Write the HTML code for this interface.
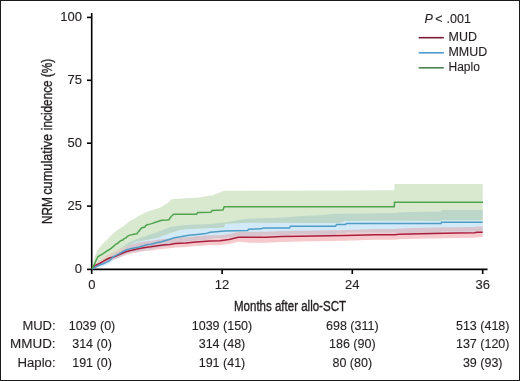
<!DOCTYPE html>
<html><head><meta charset="utf-8">
<style>
html,body{margin:0;padding:0;background:#fff;}
body{width:520px;height:381px;overflow:hidden;position:relative;}
svg{position:absolute;left:0;top:0;will-change:transform;}
text{font-family:"Liberation Sans",sans-serif;fill:#231f20;stroke:#231f20;stroke-width:0.12px;}
</style></head><body>
<svg width="520" height="381" viewBox="0 0 520 381">
<rect x="0.5" y="0.5" width="519" height="380" fill="#fff" stroke="#1a1a1a" stroke-width="1"/>

<!-- curves -->
<g>
<defs>
<clipPath id="cg"><path d="M92.0,269.0 L93.1,263.5 L94.0,259.0 L94.7,257.1 L95.0,256.3 L96.5,252.4 L97.0,251.0 L97.2,250.5 L98.0,249.5 L100.0,247.1 L100.6,246.4 L102.4,244.2 L103.2,243.4 L105.0,241.6 L106.0,240.6 L107.7,238.9 L108.0,238.6 L108.6,238.0 L110.0,236.6 L111.4,235.2 L112.9,233.7 L113.0,233.6 L115.0,232.0 L115.7,231.5 L116.0,231.2 L117.6,230.0 L118.2,229.5 L118.9,229.1 L120.0,228.4 L121.0,227.8 L121.1,227.7 L122.8,226.7 L123.4,226.3 L123.5,226.2 L125.0,225.0 L125.9,224.2 L126.8,223.4 L127.4,222.9 L128.0,222.4 L129.7,221.0 L129.8,220.9 L133.7,219.0 L135.0,218.3 L136.2,217.7 L136.9,217.3 L138.4,216.3 L139.3,215.8 L141.5,214.4 L144.8,212.8 L145.0,212.7 L145.7,212.3 L146.0,212.2 L146.7,211.8 L147.1,211.7 L148.1,211.4 L150.0,210.8 L152.3,210.1 L153.3,209.8 L155.5,209.1 L157.3,208.5 L158.0,208.3 L158.6,208.1 L160.0,207.7 L161.5,206.8 L167.0,203.4 L167.7,203.0 L169.0,201.7 L170.0,200.7 L170.2,200.5 L171.5,199.2 L171.7,199.2 L173.7,199.1 L180.0,198.7 L186.0,198.3 L190.0,198.1 L196.6,197.7 L197.0,197.7 L197.8,197.6 L200.0,197.2 L210.8,195.6 L212.1,195.4 L212.3,195.4 L215.0,194.3 L222.9,191.2 L223.8,190.8 L224.0,190.8 L224.2,190.8 L225.0,190.8 L250.0,190.7 L315.0,190.5 L340.0,190.5 L345.0,190.4 L394.0,190.3 L394.3,190.3 L394.5,183.9 L441.0,183.9 L441.5,183.9 L482.7,183.9 L482.7,220.2 L441.5,220.2 L441.0,221.0 L394.5,220.8 L394.3,220.8 L394.0,220.8 L345.0,221.0 L340.0,223.0 L315.0,222.9 L250.0,222.8 L225.0,223.8 L224.2,226.8 L224.0,227.5 L223.8,227.5 L222.9,227.6 L215.0,228.0 L212.3,228.1 L212.1,228.1 L210.8,228.1 L200.0,228.5 L197.8,228.6 L197.0,228.7 L196.6,228.7 L190.0,229.1 L186.0,229.3 L180.0,230.0 L173.7,231.9 L171.7,232.5 L171.5,232.6 L170.2,232.9 L170.0,233.0 L169.0,233.4 L167.7,233.9 L167.0,234.2 L161.5,236.3 L160.0,236.9 L158.6,237.5 L158.0,237.7 L157.3,237.8 L155.5,238.2 L153.3,238.6 L152.3,238.8 L150.0,239.2 L148.1,239.6 L147.1,239.8 L146.7,239.9 L146.0,240.0 L145.7,240.1 L145.0,240.2 L144.8,240.3 L141.5,240.9 L139.3,241.4 L138.4,241.6 L136.9,241.9 L136.2,242.0 L135.0,242.3 L133.7,243.0 L129.8,245.0 L129.7,245.1 L128.0,246.0 L127.4,246.4 L126.8,246.8 L125.9,247.3 L125.0,247.9 L123.5,248.9 L123.4,249.0 L122.8,249.3 L121.1,250.4 L121.0,250.5 L120.0,251.1 L118.9,251.7 L118.2,252.1 L117.6,252.4 L116.0,253.3 L115.7,253.5 L115.0,253.9 L113.0,255.0 L112.9,255.1 L111.4,255.9 L110.0,256.7 L108.6,257.5 L108.0,257.8 L107.7,258.0 L106.0,258.9 L105.0,259.5 L103.2,260.5 L102.4,261.0 L100.6,262.0 L100.0,262.3 L98.0,263.4 L97.2,263.9 L97.0,264.0 L96.5,264.5 L95.0,266.0 L94.7,266.3 L94.0,267.0 L93.1,267.9 L92.0,269.0 Z"/></clipPath>
<clipPath id="cb"><path d="M92.0,269.0 L96.0,265.8 L99.0,263.3 L100.0,262.5 L103.2,260.3 L106.4,258.0 L109.5,255.8 L110.0,255.5 L111.5,254.5 L113.7,253.1 L118.0,250.3 L120.0,249.0 L121.1,248.2 L126.0,244.5 L128.0,243.0 L131.5,241.3 L135.0,239.7 L139.4,238.2 L146.0,236.0 L146.5,235.8 L150.0,234.6 L151.0,234.2 L157.6,231.9 L158.0,231.8 L161.5,230.4 L163.9,229.4 L170.0,227.0 L174.2,226.4 L180.5,225.6 L186.0,224.9 L188.9,224.8 L190.0,224.8 L197.3,224.5 L200.0,224.4 L205.7,224.2 L210.0,224.0 L213.4,223.7 L224.4,222.6 L225.0,222.5 L240.0,219.8 L247.7,218.8 L248.0,218.8 L248.5,218.8 L250.0,218.7 L261.5,218.3 L262.0,218.3 L263.0,218.3 L275.0,218.0 L289.5,217.0 L290.0,217.0 L290.5,216.9 L300.0,216.0 L315.0,215.4 L316.0,215.4 L335.5,213.8 L336.0,213.8 L336.5,213.8 L345.5,213.7 L346.5,213.7 L395.0,213.0 L400.0,212.2 L410.0,212.1 L415.0,212.0 L441.0,211.6 L441.5,210.1 L482.7,210.1 L482.7,231.7 L441.5,231.6 L441.0,232.9 L415.0,233.0 L410.0,233.0 L400.0,232.9 L395.0,232.8 L346.5,232.4 L345.5,233.2 L336.5,233.3 L336.0,234.1 L335.5,235.0 L316.0,234.8 L315.0,234.8 L300.0,234.5 L290.5,234.2 L290.0,235.0 L289.5,235.8 L275.0,235.5 L263.0,235.2 L262.0,235.8 L261.5,236.1 L250.0,236.2 L248.5,236.3 L248.0,237.0 L247.7,237.4 L240.0,237.5 L225.0,237.7 L224.4,237.7 L213.4,238.5 L210.0,238.9 L205.7,240.2 L200.0,240.6 L197.3,240.8 L190.0,241.3 L188.9,241.4 L186.0,241.8 L180.5,242.7 L174.2,243.5 L170.0,244.8 L163.9,246.4 L161.5,247.1 L158.0,247.8 L157.6,247.8 L151.0,249.3 L150.0,249.4 L146.5,249.6 L146.0,249.8 L139.4,251.5 L135.0,252.0 L131.5,252.5 L128.0,253.3 L126.0,253.8 L121.1,256.3 L120.0,256.8 L118.0,257.7 L113.7,259.8 L111.5,261.6 L110.0,263.1 L109.5,263.6 L106.4,264.8 L103.2,266.0 L100.0,266.9 L99.0,267.1 L96.0,267.8 L92.0,269.0 Z"/></clipPath>
<clipPath id="cr"><path d="M92.0,269.0 L95.0,264.5 L99.6,260.6 L100.0,260.3 L103.2,258.0 L106.4,255.6 L109.5,253.7 L111.6,252.9 L115.0,251.5 L121.0,248.6 L126.0,246.3 L131.5,244.5 L139.4,242.4 L140.0,242.3 L146.5,241.2 L151.0,240.9 L157.6,239.8 L161.5,239.3 L166.0,238.8 L170.0,238.5 L175.2,237.8 L185.7,237.3 L190.0,236.9 L196.2,236.3 L210.0,235.3 L220.0,235.2 L229.2,234.0 L235.4,232.4 L238.5,231.7 L240.0,231.8 L250.0,231.8 L266.0,231.8 L281.5,231.0 L300.0,230.7 L315.0,230.5 L345.0,229.9 L376.0,229.0 L394.6,228.9 L399.2,228.4 L415.0,227.9 L433.0,227.5 L456.0,227.2 L474.6,226.9 L477.0,226.4 L482.7,226.4 L482.7,237.3 L477.0,237.3 L474.6,237.8 L456.0,238.1 L433.0,238.4 L415.0,238.8 L399.2,239.2 L394.6,239.8 L376.0,239.8 L345.0,240.7 L315.0,241.3 L300.0,241.5 L281.5,241.9 L266.0,242.8 L250.0,242.8 L240.0,241.8 L238.5,241.8 L235.4,242.5 L229.2,244.0 L220.0,245.1 L210.0,245.2 L196.2,246.1 L190.0,246.6 L185.7,247.1 L175.2,247.5 L170.0,248.2 L166.0,248.5 L161.5,248.9 L157.6,249.4 L151.0,250.4 L146.5,250.8 L140.0,251.8 L139.4,251.9 L131.5,253.5 L126.0,254.9 L121.0,256.9 L115.0,259.5 L111.6,260.2 L109.5,260.6 L106.4,261.9 L103.2,263.6 L100.0,265.3 L99.6,265.4 L95.0,266.4 L92.0,269.0 Z"/></clipPath>
</defs>
<path d="M92.0,269.0 L95.0,264.5 L99.6,260.6 L100.0,260.3 L103.2,258.0 L106.4,255.6 L109.5,253.7 L111.6,252.9 L115.0,251.5 L121.0,248.6 L126.0,246.3 L131.5,244.5 L139.4,242.4 L140.0,242.3 L146.5,241.2 L151.0,240.9 L157.6,239.8 L161.5,239.3 L166.0,238.8 L170.0,238.5 L175.2,237.8 L185.7,237.3 L190.0,236.9 L196.2,236.3 L210.0,235.3 L220.0,235.2 L229.2,234.0 L235.4,232.4 L238.5,231.7 L240.0,231.8 L250.0,231.8 L266.0,231.8 L281.5,231.0 L300.0,230.7 L315.0,230.5 L345.0,229.9 L376.0,229.0 L394.6,228.9 L399.2,228.4 L415.0,227.9 L433.0,227.5 L456.0,227.2 L474.6,226.9 L477.0,226.4 L482.7,226.4 L482.7,237.3 L477.0,237.3 L474.6,237.8 L456.0,238.1 L433.0,238.4 L415.0,238.8 L399.2,239.2 L394.6,239.8 L376.0,239.8 L345.0,240.7 L315.0,241.3 L300.0,241.5 L281.5,241.9 L266.0,242.8 L250.0,242.8 L240.0,241.8 L238.5,241.8 L235.4,242.5 L229.2,244.0 L220.0,245.1 L210.0,245.2 L196.2,246.1 L190.0,246.6 L185.7,247.1 L175.2,247.5 L170.0,248.2 L166.0,248.5 L161.5,248.9 L157.6,249.4 L151.0,250.4 L146.5,250.8 L140.0,251.8 L139.4,251.9 L131.5,253.5 L126.0,254.9 L121.0,256.9 L115.0,259.5 L111.6,260.2 L109.5,260.6 L106.4,261.9 L103.2,263.6 L100.0,265.3 L99.6,265.4 L95.0,266.4 L92.0,269.0 Z" fill="#f6cacc"/>
<path d="M92.0,269.0 L96.0,265.8 L99.0,263.3 L100.0,262.5 L103.2,260.3 L106.4,258.0 L109.5,255.8 L110.0,255.5 L111.5,254.5 L113.7,253.1 L118.0,250.3 L120.0,249.0 L121.1,248.2 L126.0,244.5 L128.0,243.0 L131.5,241.3 L135.0,239.7 L139.4,238.2 L146.0,236.0 L146.5,235.8 L150.0,234.6 L151.0,234.2 L157.6,231.9 L158.0,231.8 L161.5,230.4 L163.9,229.4 L170.0,227.0 L174.2,226.4 L180.5,225.6 L186.0,224.9 L188.9,224.8 L190.0,224.8 L197.3,224.5 L200.0,224.4 L205.7,224.2 L210.0,224.0 L213.4,223.7 L224.4,222.6 L225.0,222.5 L240.0,219.8 L247.7,218.8 L248.0,218.8 L248.5,218.8 L250.0,218.7 L261.5,218.3 L262.0,218.3 L263.0,218.3 L275.0,218.0 L289.5,217.0 L290.0,217.0 L290.5,216.9 L300.0,216.0 L315.0,215.4 L316.0,215.4 L335.5,213.8 L336.0,213.8 L336.5,213.8 L345.5,213.7 L346.5,213.7 L395.0,213.0 L400.0,212.2 L410.0,212.1 L415.0,212.0 L441.0,211.6 L441.5,210.1 L482.7,210.1 L482.7,231.7 L441.5,231.6 L441.0,232.9 L415.0,233.0 L410.0,233.0 L400.0,232.9 L395.0,232.8 L346.5,232.4 L345.5,233.2 L336.5,233.3 L336.0,234.1 L335.5,235.0 L316.0,234.8 L315.0,234.8 L300.0,234.5 L290.5,234.2 L290.0,235.0 L289.5,235.8 L275.0,235.5 L263.0,235.2 L262.0,235.8 L261.5,236.1 L250.0,236.2 L248.5,236.3 L248.0,237.0 L247.7,237.4 L240.0,237.5 L225.0,237.7 L224.4,237.7 L213.4,238.5 L210.0,238.9 L205.7,240.2 L200.0,240.6 L197.3,240.8 L190.0,241.3 L188.9,241.4 L186.0,241.8 L180.5,242.7 L174.2,243.5 L170.0,244.8 L163.9,246.4 L161.5,247.1 L158.0,247.8 L157.6,247.8 L151.0,249.3 L150.0,249.4 L146.5,249.6 L146.0,249.8 L139.4,251.5 L135.0,252.0 L131.5,252.5 L128.0,253.3 L126.0,253.8 L121.1,256.3 L120.0,256.8 L118.0,257.7 L113.7,259.8 L111.5,261.6 L110.0,263.1 L109.5,263.6 L106.4,264.8 L103.2,266.0 L100.0,266.9 L99.0,267.1 L96.0,267.8 L92.0,269.0 Z" fill="#d2eaf8"/>
<path d="M92.0,269.0 L93.1,263.5 L94.0,259.0 L94.7,257.1 L95.0,256.3 L96.5,252.4 L97.0,251.0 L97.2,250.5 L98.0,249.5 L100.0,247.1 L100.6,246.4 L102.4,244.2 L103.2,243.4 L105.0,241.6 L106.0,240.6 L107.7,238.9 L108.0,238.6 L108.6,238.0 L110.0,236.6 L111.4,235.2 L112.9,233.7 L113.0,233.6 L115.0,232.0 L115.7,231.5 L116.0,231.2 L117.6,230.0 L118.2,229.5 L118.9,229.1 L120.0,228.4 L121.0,227.8 L121.1,227.7 L122.8,226.7 L123.4,226.3 L123.5,226.2 L125.0,225.0 L125.9,224.2 L126.8,223.4 L127.4,222.9 L128.0,222.4 L129.7,221.0 L129.8,220.9 L133.7,219.0 L135.0,218.3 L136.2,217.7 L136.9,217.3 L138.4,216.3 L139.3,215.8 L141.5,214.4 L144.8,212.8 L145.0,212.7 L145.7,212.3 L146.0,212.2 L146.7,211.8 L147.1,211.7 L148.1,211.4 L150.0,210.8 L152.3,210.1 L153.3,209.8 L155.5,209.1 L157.3,208.5 L158.0,208.3 L158.6,208.1 L160.0,207.7 L161.5,206.8 L167.0,203.4 L167.7,203.0 L169.0,201.7 L170.0,200.7 L170.2,200.5 L171.5,199.2 L171.7,199.2 L173.7,199.1 L180.0,198.7 L186.0,198.3 L190.0,198.1 L196.6,197.7 L197.0,197.7 L197.8,197.6 L200.0,197.2 L210.8,195.6 L212.1,195.4 L212.3,195.4 L215.0,194.3 L222.9,191.2 L223.8,190.8 L224.0,190.8 L224.2,190.8 L225.0,190.8 L250.0,190.7 L315.0,190.5 L340.0,190.5 L345.0,190.4 L394.0,190.3 L394.3,190.3 L394.5,183.9 L441.0,183.9 L441.5,183.9 L482.7,183.9 L482.7,220.2 L441.5,220.2 L441.0,221.0 L394.5,220.8 L394.3,220.8 L394.0,220.8 L345.0,221.0 L340.0,223.0 L315.0,222.9 L250.0,222.8 L225.0,223.8 L224.2,226.8 L224.0,227.5 L223.8,227.5 L222.9,227.6 L215.0,228.0 L212.3,228.1 L212.1,228.1 L210.8,228.1 L200.0,228.5 L197.8,228.6 L197.0,228.7 L196.6,228.7 L190.0,229.1 L186.0,229.3 L180.0,230.0 L173.7,231.9 L171.7,232.5 L171.5,232.6 L170.2,232.9 L170.0,233.0 L169.0,233.4 L167.7,233.9 L167.0,234.2 L161.5,236.3 L160.0,236.9 L158.6,237.5 L158.0,237.7 L157.3,237.8 L155.5,238.2 L153.3,238.6 L152.3,238.8 L150.0,239.2 L148.1,239.6 L147.1,239.8 L146.7,239.9 L146.0,240.0 L145.7,240.1 L145.0,240.2 L144.8,240.3 L141.5,240.9 L139.3,241.4 L138.4,241.6 L136.9,241.9 L136.2,242.0 L135.0,242.3 L133.7,243.0 L129.8,245.0 L129.7,245.1 L128.0,246.0 L127.4,246.4 L126.8,246.8 L125.9,247.3 L125.0,247.9 L123.5,248.9 L123.4,249.0 L122.8,249.3 L121.1,250.4 L121.0,250.5 L120.0,251.1 L118.9,251.7 L118.2,252.1 L117.6,252.4 L116.0,253.3 L115.7,253.5 L115.0,253.9 L113.0,255.0 L112.9,255.1 L111.4,255.9 L110.0,256.7 L108.6,257.5 L108.0,257.8 L107.7,258.0 L106.0,258.9 L105.0,259.5 L103.2,260.5 L102.4,261.0 L100.6,262.0 L100.0,262.3 L98.0,263.4 L97.2,263.9 L97.0,264.0 L96.5,264.5 L95.0,266.0 L94.7,266.3 L94.0,267.0 L93.1,267.9 L92.0,269.0 Z" fill="#d8e9d0"/>
<path d="M92.0,269.0 L95.0,264.5 L99.6,260.6 L100.0,260.3 L103.2,258.0 L106.4,255.6 L109.5,253.7 L111.6,252.9 L115.0,251.5 L121.0,248.6 L126.0,246.3 L131.5,244.5 L139.4,242.4 L140.0,242.3 L146.5,241.2 L151.0,240.9 L157.6,239.8 L161.5,239.3 L166.0,238.8 L170.0,238.5 L175.2,237.8 L185.7,237.3 L190.0,236.9 L196.2,236.3 L210.0,235.3 L220.0,235.2 L229.2,234.0 L235.4,232.4 L238.5,231.7 L240.0,231.8 L250.0,231.8 L266.0,231.8 L281.5,231.0 L300.0,230.7 L315.0,230.5 L345.0,229.9 L376.0,229.0 L394.6,228.9 L399.2,228.4 L415.0,227.9 L433.0,227.5 L456.0,227.2 L474.6,226.9 L477.0,226.4 L482.7,226.4 L482.7,237.3 L477.0,237.3 L474.6,237.8 L456.0,238.1 L433.0,238.4 L415.0,238.8 L399.2,239.2 L394.6,239.8 L376.0,239.8 L345.0,240.7 L315.0,241.3 L300.0,241.5 L281.5,241.9 L266.0,242.8 L250.0,242.8 L240.0,241.8 L238.5,241.8 L235.4,242.5 L229.2,244.0 L220.0,245.1 L210.0,245.2 L196.2,246.1 L190.0,246.6 L185.7,247.1 L175.2,247.5 L170.0,248.2 L166.0,248.5 L161.5,248.9 L157.6,249.4 L151.0,250.4 L146.5,250.8 L140.0,251.8 L139.4,251.9 L131.5,253.5 L126.0,254.9 L121.0,256.9 L115.0,259.5 L111.6,260.2 L109.5,260.6 L106.4,261.9 L103.2,263.6 L100.0,265.3 L99.6,265.4 L95.0,266.4 L92.0,269.0 Z" fill="#d8c4cc" clip-path="url(#cb)"/>
<path d="M92.0,269.0 L96.0,265.8 L99.0,263.3 L100.0,262.5 L103.2,260.3 L106.4,258.0 L109.5,255.8 L110.0,255.5 L111.5,254.5 L113.7,253.1 L118.0,250.3 L120.0,249.0 L121.1,248.2 L126.0,244.5 L128.0,243.0 L131.5,241.3 L135.0,239.7 L139.4,238.2 L146.0,236.0 L146.5,235.8 L150.0,234.6 L151.0,234.2 L157.6,231.9 L158.0,231.8 L161.5,230.4 L163.9,229.4 L170.0,227.0 L174.2,226.4 L180.5,225.6 L186.0,224.9 L188.9,224.8 L190.0,224.8 L197.3,224.5 L200.0,224.4 L205.7,224.2 L210.0,224.0 L213.4,223.7 L224.4,222.6 L225.0,222.5 L240.0,219.8 L247.7,218.8 L248.0,218.8 L248.5,218.8 L250.0,218.7 L261.5,218.3 L262.0,218.3 L263.0,218.3 L275.0,218.0 L289.5,217.0 L290.0,217.0 L290.5,216.9 L300.0,216.0 L315.0,215.4 L316.0,215.4 L335.5,213.8 L336.0,213.8 L336.5,213.8 L345.5,213.7 L346.5,213.7 L395.0,213.0 L400.0,212.2 L410.0,212.1 L415.0,212.0 L441.0,211.6 L441.5,210.1 L482.7,210.1 L482.7,231.7 L441.5,231.6 L441.0,232.9 L415.0,233.0 L410.0,233.0 L400.0,232.9 L395.0,232.8 L346.5,232.4 L345.5,233.2 L336.5,233.3 L336.0,234.1 L335.5,235.0 L316.0,234.8 L315.0,234.8 L300.0,234.5 L290.5,234.2 L290.0,235.0 L289.5,235.8 L275.0,235.5 L263.0,235.2 L262.0,235.8 L261.5,236.1 L250.0,236.2 L248.5,236.3 L248.0,237.0 L247.7,237.4 L240.0,237.5 L225.0,237.7 L224.4,237.7 L213.4,238.5 L210.0,238.9 L205.7,240.2 L200.0,240.6 L197.3,240.8 L190.0,241.3 L188.9,241.4 L186.0,241.8 L180.5,242.7 L174.2,243.5 L170.0,244.8 L163.9,246.4 L161.5,247.1 L158.0,247.8 L157.6,247.8 L151.0,249.3 L150.0,249.4 L146.5,249.6 L146.0,249.8 L139.4,251.5 L135.0,252.0 L131.5,252.5 L128.0,253.3 L126.0,253.8 L121.1,256.3 L120.0,256.8 L118.0,257.7 L113.7,259.8 L111.5,261.6 L110.0,263.1 L109.5,263.6 L106.4,264.8 L103.2,266.0 L100.0,266.9 L99.0,267.1 L96.0,267.8 L92.0,269.0 Z" fill="#bcd7c9" clip-path="url(#cg)"/>
<g clip-path="url(#cg)"><path d="M92.0,269.0 L95.0,264.5 L99.6,260.6 L100.0,260.3 L103.2,258.0 L106.4,255.6 L109.5,253.7 L111.6,252.9 L115.0,251.5 L121.0,248.6 L126.0,246.3 L131.5,244.5 L139.4,242.4 L140.0,242.3 L146.5,241.2 L151.0,240.9 L157.6,239.8 L161.5,239.3 L166.0,238.8 L170.0,238.5 L175.2,237.8 L185.7,237.3 L190.0,236.9 L196.2,236.3 L210.0,235.3 L220.0,235.2 L229.2,234.0 L235.4,232.4 L238.5,231.7 L240.0,231.8 L250.0,231.8 L266.0,231.8 L281.5,231.0 L300.0,230.7 L315.0,230.5 L345.0,229.9 L376.0,229.0 L394.6,228.9 L399.2,228.4 L415.0,227.9 L433.0,227.5 L456.0,227.2 L474.6,226.9 L477.0,226.4 L482.7,226.4 L482.7,237.3 L477.0,237.3 L474.6,237.8 L456.0,238.1 L433.0,238.4 L415.0,238.8 L399.2,239.2 L394.6,239.8 L376.0,239.8 L345.0,240.7 L315.0,241.3 L300.0,241.5 L281.5,241.9 L266.0,242.8 L250.0,242.8 L240.0,241.8 L238.5,241.8 L235.4,242.5 L229.2,244.0 L220.0,245.1 L210.0,245.2 L196.2,246.1 L190.0,246.6 L185.7,247.1 L175.2,247.5 L170.0,248.2 L166.0,248.5 L161.5,248.9 L157.6,249.4 L151.0,250.4 L146.5,250.8 L140.0,251.8 L139.4,251.9 L131.5,253.5 L126.0,254.9 L121.0,256.9 L115.0,259.5 L111.6,260.2 L109.5,260.6 L106.4,261.9 L103.2,263.6 L100.0,265.3 L99.6,265.4 L95.0,266.4 L92.0,269.0 Z" fill="#e0d0c0"/></g>
</g>
<!-- /curves -->
<!-- axes -->
<g stroke="#000" stroke-width="1.6" fill="none">
  <line x1="91.7" y1="13" x2="91.7" y2="274"/>
  <line x1="91" y1="269.4" x2="487.5" y2="269.4"/>
  <line x1="87" y1="17.4" x2="92" y2="17.4"/>
  <line x1="87" y1="80.3" x2="92" y2="80.3"/>
  <line x1="87" y1="143.2" x2="92" y2="143.2"/>
  <line x1="87" y1="206.1" x2="92" y2="206.1"/>
  <line x1="87" y1="269.4" x2="92" y2="269.4"/>
  <line x1="222.1" y1="269.4" x2="222.1" y2="274"/>
  <line x1="352.3" y1="269.4" x2="352.3" y2="274"/>
  <line x1="482.7" y1="269.4" x2="482.7" y2="274"/>
</g>

<!-- lines -->
<g>
<path d="M92.0,269.0 L95.0,265.6 L99.6,263.5 L103.2,261.4 L106.4,259.5 L109.5,258.0 L111.6,257.4 L115.0,256.5 L121.0,253.8 L126.0,251.7 L131.5,250.2 L139.4,248.4 L146.5,247.2 L151.0,246.8 L157.6,245.7 L161.5,245.2 L166.0,244.7 L170.0,244.4 L175.2,243.6 L185.7,243.1 L196.2,242.0 L210.0,241.0 L220.0,240.8 L229.2,239.6 L235.4,238.0 L238.5,237.3 L266.0,237.3 L281.5,236.5 L300.0,236.2 L345.0,235.5 L376.0,234.7 L394.6,234.7 L399.2,234.2 L433.0,233.4 L456.0,233.1 L474.6,232.8 L477.0,232.3 L482.7,232.3" fill="none" stroke="#ab1d3c" stroke-width="1.5"/>
<path d="M92.0,269.0 L96.0,266.8 L99.0,265.3 L103.2,263.7 L106.4,262.2 L109.5,260.6 L111.5,258.5 L113.7,256.6 L118.0,254.3 L121.1,252.7 L126.0,250.0 L131.5,248.4 L139.4,247.0 L146.5,244.8 L151.0,244.3 L157.6,242.6 L161.5,241.8 L163.9,241.0 L170.0,239.2 L174.2,237.8 L180.5,236.8 L188.9,235.2 L197.3,234.4 L205.7,233.6 L210.0,232.3 L213.4,231.9 L224.4,231.0 L247.7,230.4 L248.5,229.3 L261.5,228.8 L263.0,227.9 L289.5,227.9 L290.5,226.3 L335.5,226.3 L336.5,224.6 L345.5,224.4 L346.5,223.6 L410.0,223.6 L441.0,223.5 L441.5,222.2 L482.7,222.2" fill="none" stroke="#4f9cc4" stroke-width="1.5"/>
<path d="M92.0,269.0 L93.1,267.0 L94.7,263.6 L96.5,259.5 L98.0,256.6 L100.6,255.1 L103.2,253.6 L106.0,251.6 L108.6,250.0 L111.4,248.1 L115.0,245.0 L115.7,244.4 L117.6,243.3 L118.9,242.1 L121.1,240.4 L122.8,240.1 L123.5,239.0 L125.9,237.8 L126.8,237.0 L127.4,236.3 L129.8,235.1 L133.7,234.3 L136.9,233.7 L138.4,231.8 L139.3,230.7 L141.5,228.0 L144.8,227.0 L145.7,225.5 L147.1,224.8 L148.1,224.6 L152.3,223.4 L155.5,222.2 L157.3,221.8 L158.6,221.3 L161.5,220.3 L167.0,219.9 L169.0,219.7 L170.2,217.8 L171.7,215.9 L173.7,214.2 L196.6,214.2 L197.8,212.5 L210.8,212.3 L212.1,210.5 L222.9,210.1 L224.2,206.8 L394.3,206.8 L394.5,202.2 L483.0,202.2" fill="none" stroke="#4fa34f" stroke-width="1.5"/>
</g>
<!-- /lines -->
<!-- y tick labels -->
<g font-size="13" text-anchor="end">
  <text x="82" y="21.3">100</text>
  <text x="82" y="84.2">75</text>
  <text x="82" y="147.1">50</text>
  <text x="82" y="210">25</text>
  <text x="82" y="272.9">0</text>
</g>
<!-- x tick labels -->
<g font-size="13" text-anchor="middle">
  <text x="91.9" y="288.9">0</text>
  <text x="222.1" y="288.9">12</text>
  <text x="352.3" y="288.9">24</text>
  <text x="482.7" y="288.9">36</text>
</g>

<!-- axis titles -->
<text x="290" y="310.5" font-size="14" style="stroke-width:0.35px" text-anchor="middle" textLength="112" lengthAdjust="spacingAndGlyphs">Months after allo-SCT</text>
<g font-size="14">
<text transform="translate(51.9,224) rotate(-90)" style="stroke-width:0.35px" textLength="27" lengthAdjust="spacingAndGlyphs">NRM</text>
<text transform="translate(51.9,194.8) rotate(-90)" style="stroke-width:0.35px" textLength="61" lengthAdjust="spacingAndGlyphs">cumulative</text>
<text transform="translate(51.9,130.2) rotate(-90)" style="stroke-width:0.35px" textLength="71.5" lengthAdjust="spacingAndGlyphs">incidence (%)</text>
</g>

<!-- legend -->
<text x="424.5" y="22.6" font-size="12.5" font-style="italic">P</text>
<text x="435.3" y="22.6" font-size="12.5">&lt;</text>
<text x="446.5" y="22.6" font-size="12.5">.001</text>
<g stroke-width="1.6">
<line x1="418.7" y1="37.7" x2="443.8" y2="37.7" stroke="#7e1a36"/>
<line x1="418.7" y1="52.8" x2="443.8" y2="52.8" stroke="#4c9ccf"/>
<line x1="418.7" y1="67.8" x2="443.8" y2="67.8" stroke="#4a834c"/>
</g>
<g font-size="12">
<text x="448.5" y="41" textLength="28.4" lengthAdjust="spacingAndGlyphs">MUD</text>
<text x="448.5" y="56.3" textLength="38.7" lengthAdjust="spacingAndGlyphs">MMUD</text>
<text x="448.5" y="71">Haplo</text>
</g>

<!-- at-risk table -->
<g font-size="12.5" text-anchor="end">
  <text x="55.6" y="330" textLength="33.2" lengthAdjust="spacingAndGlyphs">MUD:</text>
  <text x="55.6" y="348.3" textLength="45.6" lengthAdjust="spacingAndGlyphs">MMUD:</text>
  <text x="55.6" y="366.5" textLength="38.2" lengthAdjust="spacingAndGlyphs">Haplo:</text>
</g>
<g font-size="12.5" text-anchor="middle">
  <text x="92" y="330">1039 (0)</text>
  <text x="92" y="348.3">314 (0)</text>
  <text x="92" y="366.5">191 (0)</text>
  <text x="222" y="330">1039 (150)</text>
  <text x="222" y="348.3">314 (48)</text>
  <text x="222" y="366.5">191 (41)</text>
  <text x="352.3" y="330">698 (311)</text>
  <text x="352.3" y="348.3">186 (90)</text>
  <text x="352.3" y="366.5">80 (80)</text>
  <text x="482.7" y="330">513 (418)</text>
  <text x="482.7" y="348.3">137 (120)</text>
  <text x="482.7" y="366.5">39 (93)</text>
</g>
</svg>
</body></html>
